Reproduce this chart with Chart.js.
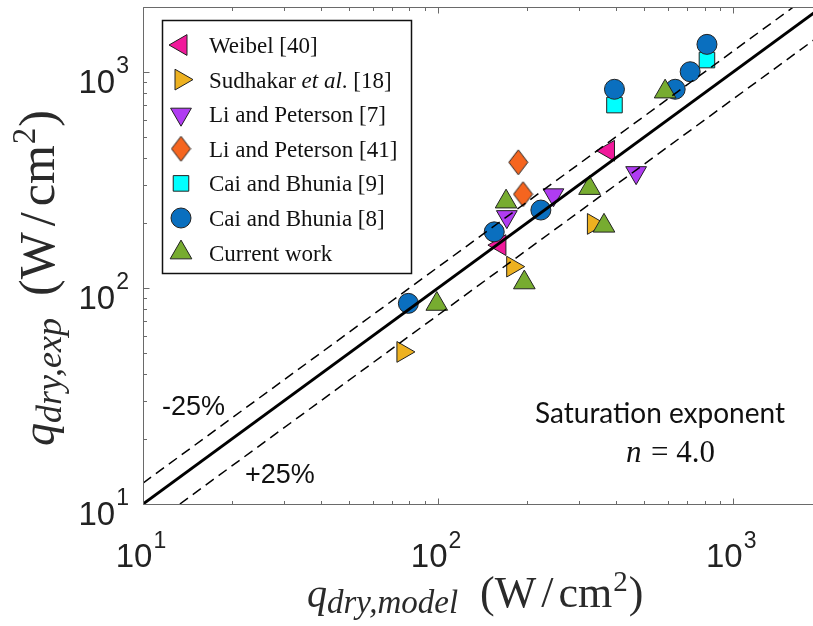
<!DOCTYPE html>
<html>
<head>
<meta charset="utf-8">
<script src="https://cdn.jsdelivr.net/npm/chart.js@4.4.1/dist/chart.umd.min.js"></script>
<style>
  html, body { margin: 0; padding: 0; background: #fff; overflow: hidden; }
  #wrap { width: 813px; height: 626px; overflow: hidden; position: relative; }
  canvas { display: block; }
</style>
</head>
<body>
<div id="wrap"><canvas id="c" width="830" height="626"></canvas></div>
<script>
// Dry-out heat flux: model prediction (x) against experiment (y), W/cm^2
const weibelX   = [378, 162];
const weibelY   = [432, 158];
const sudhakarX = [76, 179, 336];
const sudhakarY = [50.6, 125.6, 198];
const li7X      = [469, 246, 171];
const li7Y      = [342, 270, 214];
const li41X     = [187, 194];
const li41Y     = [382, 272];
const cai9X     = [815, 396];
const cai9Y     = [1136, 703];
const cai8X     = [79.3, 155, 223, 396, 636, 715, 815];
const cai8Y     = [84.9, 182, 229.6, 832, 832, 1003, 1343];
const currentX  = [99, 170, 196, 326, 365, 588];
const currentY  = [84.3, 251, 106, 290, 194, 811];

// Parity line and the +/-25 % band (end points)
const parityLine = [[10, 10], [2000, 2000]];
const bandUpper  = [[10, 12.5], [1600, 2000]];
const bandLower  = [[13.333, 10], [2000, 1500]];

// Axis range and decade tick labels
const axisMin = 10, axisMax = 2000;
const decadeTicks = [10, 100, 1000];
const decadeExp   = ['1', '2', '3'];

const seriesNames = ['Weibel [40]', 'Sudhakar et al. [18]', 'Li and Peterson [7]',
  'Li and Peterson [41]', 'Cai and Bhunia [9]', 'Cai and Bhunia [8]', 'Current work'];
const seriesX = [weibelX, sudhakarX, li7X, li41X, cai9X, cai8X, currentX];
const seriesY = [weibelY, sudhakarY, li7Y, li41Y, cai9Y, cai8Y, currentY];

function makeDiamond(fill, w, h) {
  const c = document.createElement('canvas');
  c.width = w + 2; c.height = h + 2;
  const g = c.getContext('2d');
  g.beginPath();
  g.moveTo(c.width / 2, 1);
  g.lineTo(w + 1, c.height / 2);
  g.lineTo(c.width / 2, h + 1);
  g.lineTo(1, c.height / 2);
  g.closePath();
  g.fillStyle = fill; g.fill();
  g.strokeStyle = '#222'; g.lineWidth = 1; g.stroke();
  return c;
}

const markerStyles = [
  { color: '#f0199b', style: 'triangle', rotation: -90, radius: 12 },
  { color: '#edb120', style: 'triangle', rotation: 90, radius: 12 },
  { color: '#b03cf2', style: 'triangle', rotation: 180, radius: 12 },
  { color: '#f5651f', style: makeDiamond('#f5651f', 19, 25), rotation: 0, radius: 12 },
  { color: '#00ffff', style: 'rect', rotation: 0, radius: 11 },
  { color: '#0a6fbf', style: 'circle', rotation: 0, radius: 10 },
  { color: '#77ac30', style: 'triangle', rotation: 0, radius: 12.5 }
];

const pts = (xs, ys) => xs.map((x, i) => ({ x, y: ys[i] }));
const pairPts = arr => arr.map(p => ({ x: p[0], y: p[1] }));

const datasets = seriesNames.map((name, i) => ({
  type: 'scatter',
  label: name,
  data: pts(seriesX[i], seriesY[i]),
  pointStyle: markerStyles[i].style,
  rotation: markerStyles[i].rotation,
  pointRadius: markerStyles[i].radius,
  pointBackgroundColor: markerStyles[i].color,
  pointBorderColor: '#222',
  pointBorderWidth: 1,
  order: 10 - i
}));

const lineBase = { type: 'line', pointRadius: 0, fill: false, order: 0, borderColor: '#000', tension: 0 };
datasets.push(Object.assign({}, lineBase, { label: 'parity', data: pairPts(parityLine), borderWidth: 3 }));
datasets.push(Object.assign({}, lineBase, { label: 'upper', data: pairPts(bandUpper), borderWidth: 1.5, borderDash: [10, 6] }));
datasets.push(Object.assign({}, lineBase, { label: 'lower', data: pairPts(bandLower), borderWidth: 1.5, borderDash: [10, 6] }));

const SERIF = '"Liberation Serif", "Times New Roman", serif';
const SANS = '"Liberation Sans", Arial, sans-serif';

// Draws a sequence of [text, font, dx-before, dy] pieces left to right
function drawPieces(ctx, x, y, pieces) {
  let cx = x;
  for (const [text, font, gap, dy] of pieces) {
    ctx.font = font;
    cx += gap;
    ctx.fillText(text, cx, y + dy);
    cx += ctx.measureText(text).width;
  }
  return cx;
}

const decorPlugin = {
  id: 'decor',
  afterDraw(chart) {
    const ctx = chart.ctx;
    const xs = chart.scales.x, ys = chart.scales.y;
    const a = chart.chartArea;
    const L = Math.round(a.left) + 0.5, R = Math.round(a.right) + 0.5;
    const T = Math.round(a.top) + 0.5, B = Math.round(a.bottom) + 0.5;
    ctx.save();

    // box
    ctx.strokeStyle = '#6a6a6a';
    ctx.lineWidth = 1;
    ctx.beginPath();
    ctx.moveTo(L, T); ctx.lineTo(R, T); ctx.lineTo(R, B); ctx.lineTo(L, B); ctx.closePath();
    ctx.stroke();

    // inward ticks, major and minor
    ctx.beginPath();
    for (const d of decadeTicks) {
      for (let m = 1; m <= 9; m++) {
        const v = m * d;
        if (v < axisMin || v > axisMax) continue;
        const len = m === 1 ? 6 : 3.5;
        const px = Math.round(xs.getPixelForValue(v)) + 0.5;
        ctx.moveTo(px, B); ctx.lineTo(px, B - len);
        ctx.moveTo(px, T); ctx.lineTo(px, T + len);
        const py = Math.round(ys.getPixelForValue(v)) + 0.5;
        ctx.moveTo(L, py); ctx.lineTo(L + len, py);
        ctx.moveTo(R, py); ctx.lineTo(R - len, py);
      }
    }
    ctx.stroke();

    // decade tick labels
    ctx.fillStyle = '#222';
    ctx.textBaseline = 'alphabetic';
    ctx.textAlign = 'left';
    decadeTicks.forEach((v, i) => {
      ctx.font = '33px ' + SANS;
      const wMain = ctx.measureText('10').width;
      ctx.font = '23px ' + SANS;
      const wSup = ctx.measureText(decadeExp[i]).width;
      const total = wMain + 1 + wSup;
      // x axis
      const px = xs.getPixelForValue(v);
      let x0 = px - total / 2 - 2;
      ctx.font = '33px ' + SANS;
      ctx.fillText('10', x0, 567);
      ctx.font = '23px ' + SANS;
      ctx.fillText(decadeExp[i], x0 + wMain + 1, 548);
      // y axis
      const py = ys.getPixelForValue(v);
      x0 = 129 - total;
      ctx.font = '33px ' + SANS;
      ctx.fillText('10', x0, py + 21);
      ctx.font = '23px ' + SANS;
      ctx.fillText(decadeExp[i], x0 + wMain + 1, py + 1);
    });

    // x axis title
    ctx.fillStyle = '#2a2a2a';
    drawPieces(ctx, 307, 607, [
      ['q', 'italic 40px ' + SERIF, 0, 0],
      ['dry,model', 'italic 33px ' + SERIF, 0, 6]
    ]);
    drawPieces(ctx, 480, 607, [
      ['(W', '44px ' + SERIF, 0, 0],
      ['/', '44px ' + SERIF, 5, 0],
      ['cm', '44px ' + SERIF, 5, 0],
      ['2', '29px ' + SERIF, 1, -16],
      [')', '44px ' + SERIF, 1, 0]
    ]);

    // y axis title (rotated)
    ctx.save();
    ctx.translate(54, 446);
    ctx.rotate(-Math.PI / 2);
    drawPieces(ctx, 0, 0, [
      ['q', 'italic 46px ' + SERIF, 0, 0],
      ['dry,exp', 'italic 36px ' + SERIF, 0, 7]
    ]);
    drawPieces(ctx, 150, 0, [
      ['(W', '50px ' + SERIF, 0, 0],
      ['/', '50px ' + SERIF, 6, 0],
      ['cm', '50px ' + SERIF, 6, 0],
      ['2', '33px ' + SERIF, 1, -19],
      [')', '50px ' + SERIF, 1, 0]
    ]);
    ctx.restore();

    // band labels and note
    ctx.fillStyle = '#111';
    ctx.font = '27px ' + SANS;
    ctx.fillText('-25%', 162, 415);
    ctx.fillText('+25%', 245, 483);
    ctx.font = '28px Lato, "Open Sans", sans-serif';
    ctx.fillText('Saturation exponent', 535, 423);
    ctx.font = 'italic 31px ' + SERIF;
    ctx.fillText('n', 626, 462);
    ctx.font = '31px ' + SERIF;
    ctx.fillText('= 4.0', 651, 462);

    // legend
    const box = { l: 162.5, t: 20.5, r: 411.5, b: 273.5 };
    ctx.fillStyle = '#fff';
    ctx.fillRect(box.l, box.t, box.r - box.l, box.b - box.t);
    ctx.strokeStyle = '#111';
    ctx.lineWidth = 1.5;
    ctx.strokeRect(box.l, box.t, box.r - box.l, box.b - box.t);
    const rowY0 = 45, rowStep = 34.6;
    seriesNames.forEach((name, i) => {
      const ds = chart.data.datasets[i];
      const cy = rowY0 + i * rowStep;
      ctx.fillStyle = ds.pointBackgroundColor;
      ctx.strokeStyle = ds.pointBorderColor;
      ctx.lineWidth = 1;
      const opts = { pointStyle: ds.pointStyle, rotation: ds.rotation, radius: ds.pointRadius, borderWidth: 1 };
      if (Chart.helpers && Chart.helpers.drawPoint) {
        Chart.helpers.drawPoint(ctx, opts, 181, cy);
      } else {
        ctx.beginPath(); ctx.arc(181, cy, ds.pointRadius, 0, Math.PI * 2); ctx.fill(); ctx.stroke();
      }
      ctx.fillStyle = '#111';
      const by = cy + 8;
      if (name.indexOf('et al.') >= 0) {
        drawPieces(ctx, 209, by, [
          ['Sudhakar ', '23px ' + SERIF, 0, 0],
          ['et al', 'italic 23px ' + SERIF, 0, 0],
          ['. [18]', '23px ' + SERIF, 0, 0]
        ]);
      } else {
        ctx.font = '23px ' + SERIF;
        ctx.fillText(name, 209, by);
      }
    });
    ctx.restore();
  }
};

function build() {
  new Chart(document.getElementById('c'), {
    type: 'scatter',
    data: { datasets },
    options: {
      responsive: false,
      animation: false,
      events: [],
      layout: { autoPadding: false, padding: { left: 143, top: 7, right: 8, bottom: 122 } },
      plugins: { legend: { display: false }, tooltip: { enabled: false } },
      scales: {
        x: { type: 'logarithmic', min: axisMin, max: axisMax, display: false },
        y: { type: 'logarithmic', min: axisMin, max: axisMax, display: false }
      }
    },
    plugins: [decorPlugin]
  });
}

const fontsToLoad = ['33px "Liberation Sans"', '23px "Liberation Serif"', 'italic 23px "Liberation Serif"', '28px Lato'];
Promise.all(fontsToLoad.map(f => document.fonts.load(f).catch(() => null))).then(build, build);
</script>
</body>
</html>
